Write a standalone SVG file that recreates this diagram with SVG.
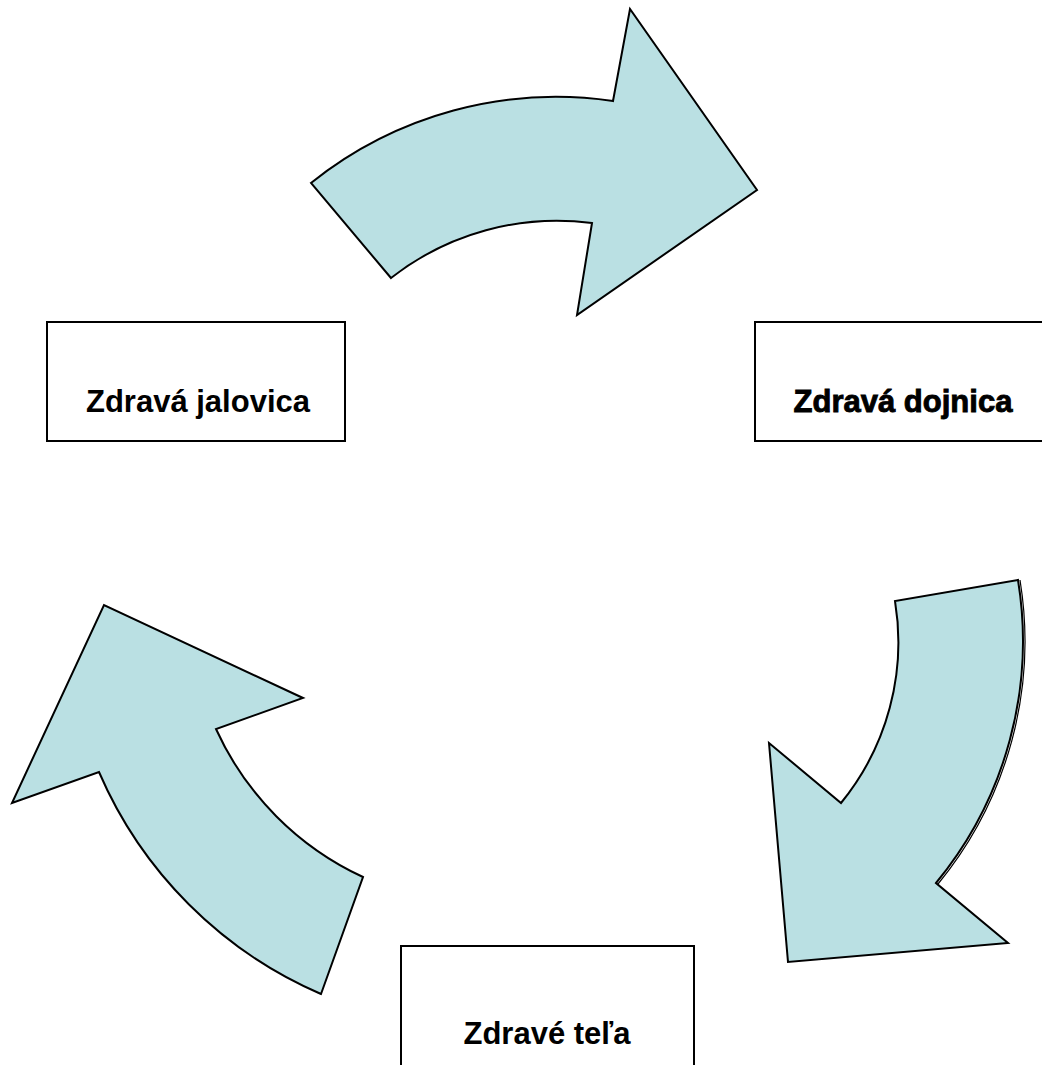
<svg xmlns="http://www.w3.org/2000/svg" width="1042" height="1065" viewBox="0 0 1042 1065">
<style>
.box{fill:#ffffff;stroke:#000000;stroke-width:2}
.lbl{font-family:"Liberation Sans",Arial,sans-serif;font-weight:bold;font-size:31px;fill:#000000;text-anchor:middle}
.heavy{stroke:#000000;stroke-width:0.9}
.arrow{fill:#BAE0E3;stroke:#000000;stroke-width:2;stroke-linejoin:miter}
</style>
<rect width="1042" height="1065" fill="#ffffff"/>
<g id="connectors">
  <path id="arrow-top" class="arrow" d="M311,183 A392,392 0 0 1 613,101 L630,9 L757,190 L577,315 L592,223 A269,269 0 0 0 391,278 Z"/>
  <g id="arrow-right">
    <path class="arrow" d="M1018,580 A380,380 0 0 1 936,883 L1008,943 L788,962 L769,743 L841,803 A254,254 0 0 0 895,601 Z"/>
    <path d="M1020,580 A382,382 0 0 1 938,884" fill="none" stroke="#000000" stroke-width="1.2"/>
  </g>
  <path id="arrow-left" class="arrow" d="M321,994 A425,425 0 0 1 99,772 L12,803 L104,605 L303,698 L216,729 A300,300 0 0 0 363,877 Z"/>
</g>
<g id="node-jalovica">
  <rect class="box" x="47" y="322" width="298" height="119"/>
  <text class="lbl" x="198" y="412">Zdravá jalovica</text>
</g>
<g id="node-dojnica">
  <rect class="box" x="755" y="322" width="300" height="119"/>
  <text class="lbl heavy" x="903" y="412">Zdravá dojnica</text>
</g>
<g id="node-tela">
  <rect class="box" x="401" y="946" width="293" height="130"/>
  <text class="lbl" x="547" y="1044">Zdravé teľa</text>
</g>
</svg>
